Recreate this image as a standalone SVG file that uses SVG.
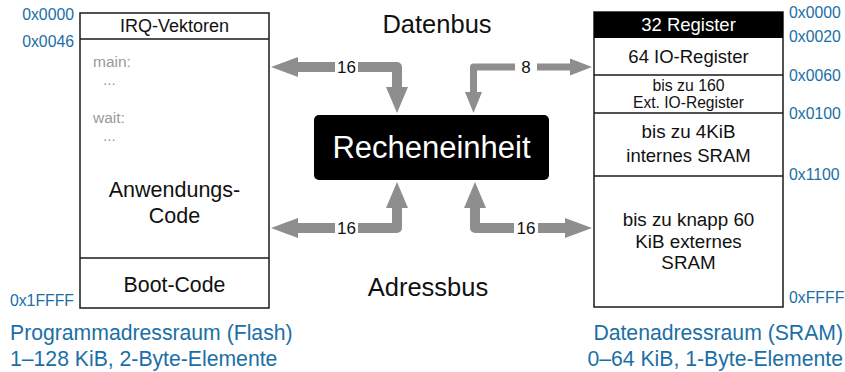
<svg xmlns="http://www.w3.org/2000/svg" width="845" height="372" viewBox="0 0 845 372">
  <style>
    text { font-family: "Liberation Sans", Arial, Helvetica, sans-serif; fill: #111; }
    .box { fill: #fff; stroke: #1a1a1a; stroke-width: 1.5; }
    .sep { stroke: #1a1a1a; stroke-width: 1.5; }
    .addr { fill: #1b6fa6; font-size: 15.8px; }
    .cap { fill: #1b6fa6; font-size: 21.2px; }
    .code { fill: #9a9a9a; font-size: 15.5px; }
    .mid { text-anchor: middle; }
    .bus { font-size: 25.5px; }
    .num { font-size: 17px; text-anchor: middle; }
    .shaft { fill: none; stroke: #8e8e8e; stroke-width: 10; stroke-linejoin: round; }
    .thin { stroke-width: 7; }
    .head { fill: #8e8e8e; }
  </style>

  <!-- Program memory (Flash) -->
  <g id="flash">
    <rect class="box" x="80" y="13" width="189" height="295"/>
    <line class="sep" x1="80" y1="39" x2="269" y2="39"/>
    <line class="sep" x1="80" y1="258" x2="269" y2="258"/>
    <text class="mid" x="174.5" y="32" font-size="18">IRQ-Vektoren</text>
    <text class="code" x="93" y="67">main:</text>
    <text class="code" x="103" y="85">...</text>
    <text class="code" x="93" y="123">wait:</text>
    <text class="code" x="103" y="141">...</text>
    <text class="mid" x="174.5" y="197" font-size="21.5">Anwendungs-</text>
    <text class="mid" x="174.5" y="223" font-size="21.5">Code</text>
    <text class="mid" x="174.5" y="292" font-size="21.3">Boot-Code</text>
    <text class="addr" x="74" y="20" text-anchor="end">0x0000</text>
    <text class="addr" x="74" y="47" text-anchor="end">0x0046</text>
    <text class="addr" x="74" y="306" text-anchor="end">0x1FFFF</text>
    <text class="cap" x="10" y="340">Programmadressraum (Flash)</text>
    <text class="cap" x="10" y="366">1–128 KiB, 2-Byte-Elemente</text>
  </g>

  <!-- Data memory (SRAM) -->
  <g id="sram">
    <rect class="box" x="594" y="12" width="189" height="295"/>
    <rect x="594" y="12" width="189" height="26" fill="#000"/>
    <line class="sep" x1="594" y1="75" x2="783" y2="75"/>
    <line class="sep" x1="594" y1="113" x2="783" y2="113"/>
    <line class="sep" x1="594" y1="176" x2="783" y2="176"/>
    <text class="mid" x="688.5" y="31" font-size="18.5" style="fill:#fff">32 Register</text>
    <text class="mid" x="688.5" y="63" font-size="18.5">64 IO-Register</text>
    <text class="mid" x="688.5" y="91" font-size="15.8">bis zu 160</text>
    <text class="mid" x="688.5" y="108" font-size="15.6">Ext. IO-Register</text>
    <text class="mid" x="688.5" y="138" font-size="18.8">bis zu 4KiB</text>
    <text class="mid" x="688.5" y="162" font-size="18.5">internes SRAM</text>
    <text class="mid" x="688.5" y="226" font-size="18.8">bis zu knapp 60</text>
    <text class="mid" x="688.5" y="248" font-size="18.8">KiB externes</text>
    <text class="mid" x="688.5" y="269" font-size="18.8">SRAM</text>
    <text class="addr" x="789" y="18">0x0000</text>
    <text class="addr" x="789" y="42">0x0020</text>
    <text class="addr" x="789" y="81">0x0060</text>
    <text class="addr" x="789" y="119">0x0100</text>
    <text class="addr" x="789" y="180">0x1100</text>
    <text class="addr" x="789" y="303">0xFFFF</text>
    <text class="cap" x="843" y="340" text-anchor="end">Datenadressraum (SRAM)</text>
    <text class="cap" x="843" y="366" text-anchor="end">0–64 KiB, 1-Byte-Elemente</text>
  </g>

  <!-- Processing unit -->
  <g id="alu">
    <rect x="314" y="115" width="235" height="65" rx="5" fill="#000"/>
    <text class="mid" x="431.5" y="158" font-size="31" style="fill:#fff">Recheneinheit</text>
  </g>

  <!-- Bus names -->
  <g id="busnames">
    <text class="mid bus" x="437" y="33">Datenbus</text>
    <text class="mid bus" x="428" y="296">Adressbus</text>
  </g>

  <!-- Bus connectors -->
  <g id="connectors">
    <!-- data bus, program side (16 bit) -->
    <path class="shaft" d="M297,67 H335"/>
    <path class="shaft" d="M358,67 H397 V88"/>
    <polygon class="head" points="271,67 298,57 298,77"/>
    <polygon class="head" points="386,87 408,87 397,113"/>
    <text class="num" x="346.5" y="73">16</text>

    <!-- data bus, data side (8 bit) -->
    <path class="shaft thin" d="M515,67 H473.5 V93"/>
    <path class="shaft thin" d="M537,67 H571"/>
    <polygon class="head" points="465,92 482,92 473.5,113"/>
    <polygon class="head" points="592,67 570,58.5 570,75.5"/>
    <text class="num" x="526" y="73">8</text>

    <!-- address bus, program side (16 bit) -->
    <path class="shaft" d="M297,228 H335"/>
    <path class="shaft" d="M358,228 H397 V207"/>
    <polygon class="head" points="271,228 298,218 298,238"/>
    <polygon class="head" points="386,208 408,208 397,182"/>
    <text class="num" x="346.5" y="234">16</text>

    <!-- address bus, data side (16 bit) -->
    <path class="shaft" d="M514,228 H475 V207"/>
    <path class="shaft" d="M538,228 H566"/>
    <polygon class="head" points="464,208 486,208 475,182"/>
    <polygon class="head" points="592,228 565,218 565,238"/>
    <text class="num" x="526" y="234">16</text>
  </g>
</svg>
